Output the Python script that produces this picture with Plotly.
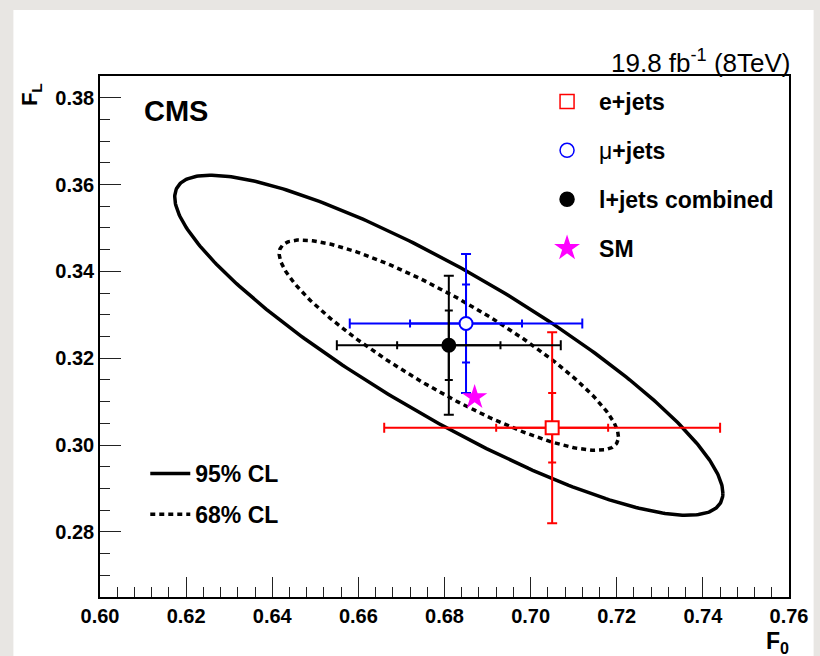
import numpy as np
import plotly.graph_objects as go

# ---------------- data ----------------
names = ["e+jets", "μ+jets", "l+jets combined"]
colors = ["#ff0000", "#0000ff", "#000000"]
f0 = [0.705, 0.685, 0.681]
fl = [0.304, 0.328, 0.323]
f0_stat = [0.013, 0.013, 0.012]
f0_tot = [0.039, 0.027, 0.026]
fl_stat = [0.008, 0.009, 0.008]
fl_tot = [0.022, 0.016, 0.016]

sm_f0 = [0.687]
sm_fl = [0.311]

# combined-fit covariance used for the CL contours
comb_f0, comb_fl = 0.681, 0.323
sig_f0, sig_fl, rho = 0.026, 0.016, -0.87
cl_levels = ["95% CL", "68% CL"]
cl_k = [2.448, 1.515]          # sqrt(chi2) for 2 d.o.f.
cl_dash = ["solid", "5px,4px"]

xticks = [0.60, 0.62, 0.64, 0.66, 0.68, 0.70, 0.72, 0.74, 0.76]
yticks = [0.28, 0.30, 0.32, 0.34, 0.36, 0.38]

FONT = "Liberation Sans, Arial, Helvetica, sans-serif"

fig = go.Figure()

# ---------------- CL contours ----------------
t = np.linspace(0, 2 * np.pi, 400)
for lab, k, dash in zip(cl_levels, cl_k, cl_dash):
    ex = comb_f0 + k * sig_f0 * np.cos(t)
    ey = comb_fl + k * sig_fl * (rho * np.cos(t) + np.sqrt(1 - rho ** 2) * np.sin(t))
    fig.add_trace(go.Scatter(x=ex, y=ey, mode="lines",
                             line=dict(color="black", width=3.5, dash=dash),
                             showlegend=False, hoverinfo="skip"))

# ---------------- measurements ----------------
symbols = ["square", "circle", "circle"]
fills = ["white", "white", "black"]
for i in range(3):
    # statistical (inner ticks)
    fig.add_trace(go.Scatter(
        x=[f0[i]], y=[fl[i]], mode="markers",
        marker=dict(size=1, opacity=0, color=colors[i]),
        error_x=dict(type="data", array=[f0_stat[i]], color=colors[i], thickness=2, width=4),
        error_y=dict(type="data", array=[fl_stat[i]], color=colors[i], thickness=2, width=4),
        showlegend=False, hoverinfo="skip"))
    # total
    fig.add_trace(go.Scatter(
        x=[f0[i]], y=[fl[i]], mode="markers",
        marker=dict(size=13, symbol=symbols[i], color=fills[i],
                    line=dict(color=colors[i], width=2)),
        error_x=dict(type="data", array=[f0_tot[i]], color=colors[i], thickness=2, width=5),
        error_y=dict(type="data", array=[fl_tot[i]], color=colors[i], thickness=2, width=5),
        showlegend=False))

fig.add_trace(go.Scatter(x=sm_f0, y=sm_fl, mode="markers",
                         marker=dict(size=19, symbol="star", color="#ff00ff",
                                     line=dict(width=0)),
                         showlegend=False))

# ---------------- legend entries ----------------
leg_names = ["<b>e+jets</b>", "μ<b>+jets</b>", "<b>l+jets combined</b>", "<b>SM</b>"]
leg_sym = ["square-open", "circle-open", "circle", "star"]
leg_col = ["#ff0000", "#0000ff", "#000000", "#ff00ff"]
leg_size = [14, 14, 14, 18]
for j in range(4):
    fig.add_trace(go.Scatter(x=[None], y=[None], mode="markers", name=leg_names[j],
                             legendgroup="g%d" % j, legend="legend",
                             marker=dict(size=leg_size[j], symbol=leg_sym[j], color=leg_col[j],
                                         line=dict(color=leg_col[j], width=1.5))))
for lab, dash in zip(cl_levels, cl_dash):
    fig.add_trace(go.Scatter(x=[None], y=[None], mode="lines", name="<b>" + lab + "</b>",
                             legendgroup=lab, legend="legend2",
                             line=dict(color="black", width=3.5, dash=dash)))

# ---------------- layout ----------------
L, R, T, B = 100, 20, 76, 59
W, H = 820, 656
pw, ph = W - L - R, H - T - B


def px(xp):
    return (xp - L) / pw


def py(yp):
    return (H - B - yp) / ph


axis_common = dict(showline=True, mirror=True, linecolor="black", linewidth=1.5,
                   showgrid=False, zeroline=False, ticks="inside", tickcolor="#222",
                   tickwidth=1.2, tickformat=".2f", ticklabeloverflow="allow",
                   tickfont=dict(family=FONT, size=20, color="black", weight="bold"))

fig.update_layout(
    width=W, height=H,
    margin=dict(l=L, r=R, t=T, b=B),
    paper_bgcolor="#e8e6e3", plot_bgcolor="white",
    font=dict(family=FONT, color="black"),
    xaxis=dict(range=[0.60, 0.76], tickvals=xticks, ticklen=20,
               minor=dict(dtick=0.004, tick0=0.60, ticks="inside", ticklen=10,
                          tickcolor="#222", tickwidth=1.2),
               **axis_common),
    yaxis=dict(range=[0.265, 0.385], tickvals=yticks, ticklen=21,
               minor=dict(dtick=0.005, tick0=0.28, ticks="inside", ticklen=10,
                          tickcolor="#222", tickwidth=1.2),
               **axis_common),
    legend=dict(x=px(542), y=py(80), xanchor="left", yanchor="top",
                bgcolor="rgba(0,0,0,0)", borderwidth=0, itemwidth=54,
                tracegroupgap=16, traceorder="grouped",
                font=dict(family=FONT, size=23, color="black")),
    legend2=dict(x=px(146), y=py(452), xanchor="left", yanchor="top",
                 bgcolor="rgba(0,0,0,0)", borderwidth=0, itemwidth=40,
                 tracegroupgap=8, traceorder="grouped",
                 font=dict(family=FONT, size=23, color="black")),
    shapes=[dict(type="rect", xref="paper", yref="paper", layer="below",
                 x0=px(12), x1=px(W + 5), y0=py(H + 5), y1=py(10),
                 fillcolor="white", line=dict(width=0))],
    annotations=[
        dict(text="<b>CMS</b>", x=px(143), y=py(111), xref="paper", yref="paper",
             xanchor="left", yanchor="middle", showarrow=False,
             font=dict(family=FONT, size=29, color="black")),
        dict(text="19.8 fb<sup>-1</sup> (8TeV)", x=px(804), y=py(61), xref="paper", yref="paper",
             xanchor="right", yanchor="middle", showarrow=False,
             font=dict(family=FONT, size=26, color="black")),
        dict(text="<b>F<sub>L</sub></b>", x=px(30), y=py(95), xref="paper", yref="paper",
             xanchor="center", yanchor="middle", showarrow=False, textangle=-90,
             font=dict(family=FONT, size=22, color="black")),
        dict(text="<b>F<sub>0</sub></b>", x=px(788), y=py(642), xref="paper", yref="paper",
             xanchor="center", yanchor="middle", showarrow=False,
             font=dict(family=FONT, size=23, color="black")),
    ],
)

fig.write_html("out.html")
